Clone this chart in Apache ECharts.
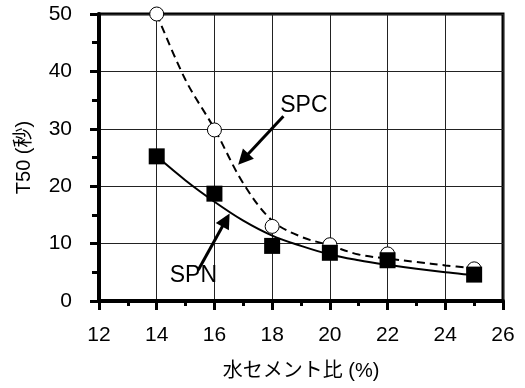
<!DOCTYPE html>
<html>
<head>
<meta charset="utf-8">
<script src="https://cdn.jsdelivr.net/npm/echarts@6/dist/echarts.min.js"></script>
<style>
  html, body { margin: 0; padding: 0; background: #fff; }
  #chart { width: 525px; height: 388px; }
</style>
</head>
<body>
<div id="chart"></div>
<script>
// Measured points: water-cement ratio (%) vs T50 (s)
const waterCementRatio = [14, 16, 18, 20, 22, 25];
const spcT50 = [50, 29.8, 13.0, 9.8, 8.2, 5.6];
const spnT50 = [25.2, 18.7, 9.6, 8.4, 7.1, 4.6];

// Fitted trend curves, sampled at each integer ratio
const curveRatio = [14, 15, 16, 17, 18, 19, 20, 21, 22, 23, 24, 25];
const spcCurve = [50, 38.5, 30, 20.5, 14.0, 11.2, 9.7, 8.1, 7.4, 6.8, 6.2, 5.7];
const spnCurve = [25.2, 21.0, 17.3, 14.0, 11.4, 9.6, 8.1, 7.1, 6.3, 5.6, 5.0, 4.5];

// Callout arrows: [from, to] in data units, and the labels they belong to
const spcArrow = [[18.39, 32.2], [17.0, 24.7]];
const spnArrow = [[15.44, 5.4], [16.40, 14.1]];
const spcLabelAt = [19.1, 34.0];
const spnLabelAt = [15.27, 4.5];

const xTicks = { min: 12, max: 26, step: 2 };
const yTicks = { min: 0, max: 50, step: 10 };

const pairs = (xs, ys) => xs.map((x, i) => [x, ys[i]]);
const latin = "'Liberation Sans', Arial, sans-serif";
const mixed = "'Liberation Sans', 'Noto Sans CJK JP', sans-serif";

const axisCommon = {
  type: 'value',
  axisLine: { show: true, lineStyle: { color: '#000', width: 4 } },
  axisTick: { show: true, length: 9, lineStyle: { color: '#000', width: 3 } },
  minorTick: { show: true, splitNumber: 2, length: 5, lineStyle: { color: '#000', width: 3 } },
  splitLine: { show: true, lineStyle: { color: '#222', width: 1 } },
  axisLabel: { fontSize: 21, color: '#000', fontFamily: latin },
  nameLocation: 'middle',
  nameTextStyle: { fontSize: 20, color: '#000', fontFamily: mixed }
};

const arrowLine = (seg) => ({
  silent: true,
  symbol: ['none', 'triangle'],
  symbolSize: 15,
  label: { show: false },
  lineStyle: { color: '#000', width: 3, type: 'solid' },
  data: [[{ coord: seg[0] }, { coord: seg[1] }]]
});

const calloutText = (at, text) => ({
  silent: true,
  symbol: 'circle',
  symbolSize: 0,
  label: {
    show: true, position: 'inside', formatter: text,
    fontSize: 23, color: '#000', fontFamily: latin
  },
  data: [{ coord: at }]
});

const chart = echarts.init(document.getElementById('chart'), null, { renderer: 'canvas' });
chart.setOption({
  animation: false,
  backgroundColor: '#fff',
  grid: {
    left: 99, right: 22, top: 14, bottom: 87,
    show: true, borderColor: '#000', borderWidth: 3, backgroundColor: 'transparent'
  },
  xAxis: Object.assign({}, axisCommon, {
    min: xTicks.min, max: xTicks.max, interval: xTicks.step,
    name: '水セメント比 (%)', nameGap: 60,
    axisLabel: Object.assign({}, axisCommon.axisLabel, { margin: 24 })
  }),
  yAxis: Object.assign({}, axisCommon, {
    min: yTicks.min, max: yTicks.max, interval: yTicks.step,
    name: 'T50 (秒)', nameGap: 65,
    minorTick: Object.assign({}, axisCommon.minorTick, { length: 7 }),
    axisLabel: Object.assign({}, axisCommon.axisLabel, { margin: 27 })
  }),
  series: [
    {
      name: 'SPC fit', type: 'line', smooth: 0.35, symbol: 'none',
      data: pairs(curveRatio, spcCurve),
      lineStyle: { color: '#000', width: 2, type: [8, 5] },
      markLine: arrowLine(spcArrow),
      markPoint: calloutText(spcLabelAt, 'SPC'),
      z: 2
    },
    {
      name: 'SPN fit', type: 'line', smooth: 0.35, symbol: 'none',
      data: pairs(curveRatio, spnCurve),
      lineStyle: { color: '#000', width: 2 },
      markLine: arrowLine(spnArrow),
      markPoint: calloutText(spnLabelAt, 'SPN'),
      z: 2
    },
    {
      name: 'SPC', type: 'scatter', symbol: 'circle', symbolSize: 14,
      data: pairs(waterCementRatio, spcT50),
      itemStyle: { color: '#fff', borderColor: '#000', borderWidth: 1, opacity: 1 },
      z: 3
    },
    {
      name: 'SPN', type: 'scatter', symbol: 'rect', symbolSize: 16,
      data: pairs(waterCementRatio, spnT50),
      itemStyle: { color: '#000', opacity: 1 },
      z: 4
    }
  ]
});
</script>
</body>
</html>
